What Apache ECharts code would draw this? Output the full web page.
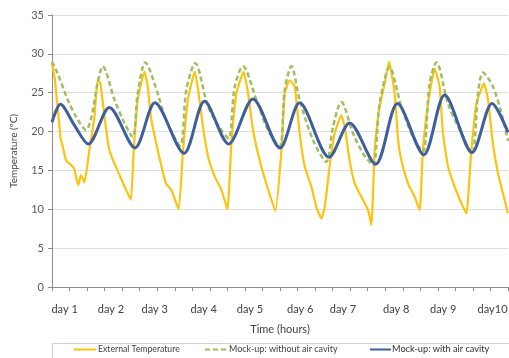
<!DOCTYPE html>
<html>
<head>
<meta charset="utf-8">
<script src="https://cdn.jsdelivr.net/npm/echarts@6/dist/echarts.min.js"></script>
<style>
html,body{margin:0;padding:0;background:#fff;}
#chart{width:509px;height:358px;}
</style>
</head>
<body>
<div id="chart"></div>
<script>
// Time in hours
const dayLabels = ['day 1','day 2','day 3','day 4','day 5','day 6','day 7','day 8','day 9','day10'];
const dayLabelHours = [7.2, 33.6, 58.6, 86.5, 112.9, 141.5, 165.9, 196.3, 223.1, 251.2];

const externalHours = [0,1.7,4.8,6.1,8,10.8,12.5,15,16.5,18.5,21.3,24.2,26,27.6,29.9,32.7,35.6,39.3,42.2,45,46.6,48.9,52.7,54.6,56.4,60.3,65,68,72.2,74.7,77.5,81.4,83.3,86.1,89,92.8,96.6,100,102.3,105.1,109.3,111.8,114.6,118.4,122.2,127.4,130.8,132.7,135.5,138.4,141.2,144.1,147.9,150.7,153.6,155.5,158.3,161.2,165,166.9,169.7,172.6,176.4,180.2,182.1,184,186.8,189.7,192.2,195.4,197.3,199.2,203,206.8,209.6,211.5,214.4,218.2,221,222.9,225.8,229.6,233.4,236.3,239.1,242,246.3,248.6,251.4,254.3,258.1,260];
const externalTemp = [28.8,26.6,19.3,18.1,16.3,15.7,15.3,13.1,14.4,13.5,17.6,21.9,26.6,26.2,21.9,17.6,15.9,14.0,12.5,11.2,17.6,24.1,27.7,25.8,21.9,17.6,13.3,12.5,10.0,17.6,24.1,27.7,25.4,20.6,16.8,14.2,12.5,10.0,18.5,24.9,27.7,24.9,20.2,16.3,13.3,9.8,17.6,24.9,26.6,25.8,19.8,15.5,12.9,10.3,8.8,10.3,15.5,19.8,22.1,20.6,16.3,13.3,11.6,9.9,8.0,17.6,23.2,26.2,29.0,24.9,19.0,16.3,13.3,11.6,9.9,17.6,23.6,28.1,25.8,19.8,15.5,12.9,10.8,9.5,17.6,23.6,26.2,24.1,18.5,14.6,11.2,9.5];

const noCavityHours = [0,3,9,14,19.4,22.5,26,28.9,35.6,41.3,46,48.9,53.2,60.3,64.3,73,76.6,81.7,89,96.6,100.7,104.2,108.9,116.5,123.1,129.8,132.7,136.5,141.2,148.8,156.4,160.2,165,171.6,177.3,183,186.8,192.5,199.2,205.8,211.5,215.3,219.2,225.8,233.4,239.5,242.9,245.7,251.4,256.2,260];
const noCavityTemp = [29.0,27.6,24.1,21.8,20.2,21.9,26.2,28.4,24.1,21.1,19.3,24.9,28.9,24.9,21.9,18.2,25.4,28.8,23.2,20.2,19.1,25.8,28.4,24.1,20.2,18.1,25.4,28.4,24.1,18.9,16.1,20.6,23.8,19.8,17.2,15.7,23.6,28.3,23.2,19.3,17.4,26.2,28.9,23.6,19.8,17.2,24.9,27.6,25.8,22.4,18.8];

const cavityHours = [0,4.8,12.8,20.7,32.7,47.3,58.7,75.3,87,100.7,114.6,130,141.2,158,169.7,184.5,197,212,223.9,239.5,250.9,260];
const cavityTemp = [21.2,23.5,20.8,18.4,23.1,17.9,23.7,17.2,23.9,18.4,24.2,17.9,23.7,16.7,21.1,15.8,23.6,17.0,24.7,17.3,23.6,19.9];

const yTicks = [0,5,10,15,20,25,30,35];

const pair = (xs, ys) => xs.map((x, i) => [x, ys[i]]);

const FONT = 'Lato';
const legendBase = {top: 345, padding: 0, itemWidth: 22, itemHeight: 8, itemGap: 0, itemStyle: {opacity: 0}};
const chart = echarts.init(document.getElementById('chart'), null, {renderer: 'canvas'});
chart.setOption({
  animation: false,
  backgroundColor: '#ffffff',
  grid: {left: 52, right: 1, top: 15, bottom: 71, containLabel: false, outerBoundsMode: 'none'},
  xAxis: {
    type: 'value', min: 0, max: 260, interval: 10,
    name: 'Time (hours)', nameLocation: 'middle', nameGap: 37,
    nameTextStyle: {fontFamily: FONT, fontSize: 11, color: '#404040'},
    axisLine: {show: true, lineStyle: {color: '#8c8c8c', width: 1}},
    axisTick: {show: true, length: 4, lineStyle: {color: '#8c8c8c'}},
    axisLabel: {
      show: true, customValues: dayLabelHours, margin: 17,
      fontFamily: FONT, fontSize: 11, color: '#404040',
      formatter: (v) => { const i = dayLabelHours.indexOf(v); return i >= 0 ? dayLabels[i] : ''; }
    },
    splitLine: {show: false}
  },
  yAxis: {
    type: 'value', min: yTicks[0], max: yTicks[yTicks.length - 1], interval: 5,
    name: 'Temperature (ºC)', nameLocation: 'middle', nameGap: 33, nameRotate: 90,
    nameTextStyle: {fontFamily: FONT, fontSize: 10, color: '#404040'},
    axisLine: {show: true, lineStyle: {color: '#8c8c8c', width: 1}},
    axisTick: {show: true, length: 4, lineStyle: {color: '#8c8c8c'}},
    axisLabel: {margin: 8, fontFamily: FONT, fontSize: 11, color: '#595959'},
    splitLine: {show: true, lineStyle: {color: '#dedede', width: 1}}
  },
  legend: [
    Object.assign({}, legendBase, {data: ['External Temperature'], left: 73,
     textStyle: {fontFamily: FONT, fontSize: 8.7, color: '#404040', padding: [0,0,0,-3]}}),
    Object.assign({}, legendBase, {data: ['Mock-up: without air cavity'], left: 204,
     textStyle: {fontFamily: FONT, fontSize: 9, color: '#404040', padding: [0,0,0,-3]}}),
    Object.assign({}, legendBase, {data: ['Mock-up: with air cavity'], left: 369, itemWidth: 21,
     textStyle: {fontFamily: FONT, fontSize: 9.2, color: '#303030', padding: [0,0,0,-4]}})
  ],
  graphic: [{
    type: 'rect', shape: {x: 52.5, y: 343.5, width: 470, height: 30},
    style: {fill: 'none', stroke: '#d0d0d0', lineWidth: 1}, z: -1
  }],
  series: [
    {
      name: 'External Temperature', type: 'line', data: pair(externalHours, externalTemp),
      showSymbol: false, symbol: 'none', smooth: 0.15,
      lineStyle: {color: '#FFC20E', width: 2.2}, itemStyle: {color: '#FFC20E'}, z: 2
    },
    {
      name: 'Mock-up: without air cavity', type: 'line', data: pair(noCavityHours, noCavityTemp),
      showSymbol: false, symbol: 'none', smooth: 0.3,
      lineStyle: {color: '#9dbf62', width: 2.5, type: [5, 3]}, itemStyle: {color: '#9dbf62'}, z: 3
    },
    {
      name: 'Mock-up: with air cavity', type: 'line', data: pair(cavityHours, cavityTemp),
      showSymbol: false, symbol: 'none', smooth: 0.3,
      lineStyle: {color: '#3f5f9b', width: 3}, itemStyle: {color: '#3f5f9b'}, z: 4
    }
  ]
});
</script>
</body>
</html>
